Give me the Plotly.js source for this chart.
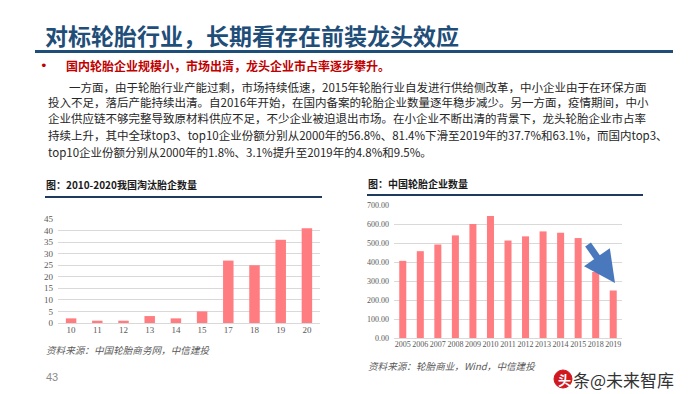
<!DOCTYPE html>
<html>
<head>
<meta charset="utf-8">
<script src="https://cdn.plot.ly/plotly-3.0.1.min.js"></script>
<style>html,body{margin:0;padding:0;background:#fff;}#chart{width:700px;height:394px;}</style>
</head>
<body>
<div id="chart"></div>
<script>
// ---- data ----
const leftCats = ['10','11','12','13','14','15','17','18','19','20'];
const leftVals = [2,1,1,3,2,5,27,25,36,41];
const rightCats = ['2005','2006','2007','2008','2009','2010','2011','2012','2013','2014','2015','2018','2019'];
const rightVals = [406,457,492,540,600,642,513,535,561,554,526,348,250];

const slideTitle = '对标轮胎行业，长期看存在前装龙头效应';
const bulletText = '国内轮胎企业规模小，市场出清，龙头企业市占率逐步攀升。';
const paragraph = [
  '一方面，由于轮胎行业产能过剩，市场持续低速，2015年轮胎行业自发进行供给侧改革，中小企业由于在环保方面',
  '投入不足，落后产能持续出清。自2016年开始，在国内备案的轮胎企业数量逐年稳步减少。另一方面，疫情期间，中小',
  '企业供应链不够完整导致原材料供应不足，不少企业被迫退出市场。在小企业不断出清的背景下，龙头轮胎企业市占率',
  '持续上升，其中全球top3、top10企业份额分别从2000年的56.8%、81.4%下滑至2019年的37.7%和63.1%，而国内top3、',
  'top10企业份额分别从2000年的1.8%、3.1%提升至2019年的4.8%和9.5%。'
];
const leftTitle = '图：2010-2020我国淘汰胎企数量';
const rightTitle = '图：中国轮胎企业数量';
const leftSource = '资料来源：中国轮胎商务网，中信建投';
const rightSource = '资料来源：轮胎商业，Wind，中信建投';
const pageNo = '43';

// ---- helpers ----
const W = 700, H = 394;
const px = x => x / W;
const py = y => 1 - y / H;
const CJK = 'Noto Sans CJK SC, sans-serif';
const SERIF = 'Liberation Serif, Times New Roman, serif';
const barColor = '#FF7C80';
const navy = '#1f4e79';

const traces = [
  {type:'bar', x: leftCats, y: leftVals, xaxis:'x', yaxis:'y', marker:{color: barColor}, hoverinfo:'skip'},
  {type:'bar', x: rightCats, y: rightVals, xaxis:'x2', yaxis:'y2', marker:{color: barColor}, hoverinfo:'skip'}
];

const tickFontL = {family: SERIF, size: 9, color:'#595959'};
const tickFontR = {family: SERIF, size: 8, color:'#595959'};

const annotations = [];
function txt(text, x, y, font, extra) {
  annotations.push(Object.assign({text, x: px(x), y: py(y), xref:'paper', yref:'paper',
    xanchor:'left', yanchor:'middle', showarrow:false, font}, extra || {}));
}
txt(slideTitle, 43, 35, {family: CJK, size: 23, color: navy, weight: 'bold'});
txt('•', 38, 65, {family: 'DejaVu Sans', size: 13, color: '#c00000'});
txt(bulletText, 64, 65, {family: CJK, size: 12, color: '#c00000', weight: 'bold'});
const paraY = [86.5, 101.7, 118.3, 135, 151.7];
paragraph.forEach((line, i) => {
  txt(line, i === 0 ? 67 : 46, paraY[i], {family: CJK, size: 11.5, color: '#262626'});
});
txt(leftTitle, 44, 184, {family: CJK, size: 10, color: '#1a1a1a', weight: 'bold'});
txt(rightTitle, 366, 183, {family: CJK, size: 10, color: '#1a1a1a', weight: 'bold'});
txt(leftSource, 44, 350, {family: CJK, size: 9.6, color: '#595959', style: 'italic'});
txt(rightSource, 366, 366, {family: CJK, size: 9.6, color: '#595959', style: 'italic'});
txt(pageNo, 44, 377, {family: 'Liberation Sans, sans-serif', size: 11, color: '#8c8c8c'});
txt('头', 556, 379, {family: CJK, size: 13, color: '#ffffff', weight:'bold'});
txt('条@未来智库', 571, 379, {family: CJK, size: 17, color: '#333333'});
// arrow (decoration)
annotations.push({x: px(615), y: py(283), xref:'paper', yref:'paper', ax: -28, ay: -40,
  axref:'pixel', ayref:'pixel', showarrow:true, arrowhead:2, arrowsize:0.9, arrowwidth:7,
  arrowcolor:'#4a78bd', text:''});

const shapes = [
  {type:'line', xref:'paper', yref:'paper', x0: px(35), x1: px(673), y0: py(51.5), y1: py(51.5), line:{color: navy, width: 3}},
  {type:'line', xref:'paper', yref:'paper', x0: px(45), x1: px(322), y0: py(197), y1: py(197), line:{color: '#1f3a5f', width: 2}},
  {type:'line', xref:'paper', yref:'paper', x0: px(367), x1: px(643), y0: py(195), y1: py(195), line:{color: '#1f3a5f', width: 2}},
  {type:'circle', xref:'paper', yref:'paper', x0: px(554), x1: px(572), y0: py(388), y1: py(370), fillcolor:'#d0191f', line:{color:'#d0191f', width:1}}
];

const layout = {
  width: W, height: H,
  margin: {l:0, r:0, t:0, b:0},
  paper_bgcolor: '#ffffff', plot_bgcolor: '#ffffff',
  showlegend: false,
  bargap: 0.6,
  xaxis: {domain: [px(58), px(320)], anchor:'y', type:'category', showgrid:false, showline:false,
    ticks:'', tickfont: tickFontL, fixedrange:true},
  yaxis: {domain: [py(323), py(219)], anchor:'x', range:[0,45], dtick:5, gridcolor:'#d9d9d9', gridwidth:1,
    zeroline:true, zerolinecolor:'#d9d9d9', zerolinewidth:1, showline:false, ticks:'', tickfont: tickFontL,
    ticklabelstandoff: 4, fixedrange:true},
  xaxis2: {domain: [px(394), px(622)], anchor:'y2', type:'category', showgrid:false, showline:false,
    ticks:'', tickfont: tickFontR, tickangle: 0, fixedrange:true},
  yaxis2: {domain: [py(338), py(205)], anchor:'x2', range:[0,700], dtick:100, tickformat:'.2f',
    gridcolor:'#d9d9d9', gridwidth:1, zeroline:true, zerolinecolor:'#d9d9d9', zerolinewidth:1,
    showline:false, ticks:'', tickfont: tickFontR, ticklabelstandoff: 4, fixedrange:true},
  annotations, shapes
};

Plotly.newPlot('chart', traces, layout, {staticPlot:true, displayModeBar:false});
</script>
</body>
</html>
